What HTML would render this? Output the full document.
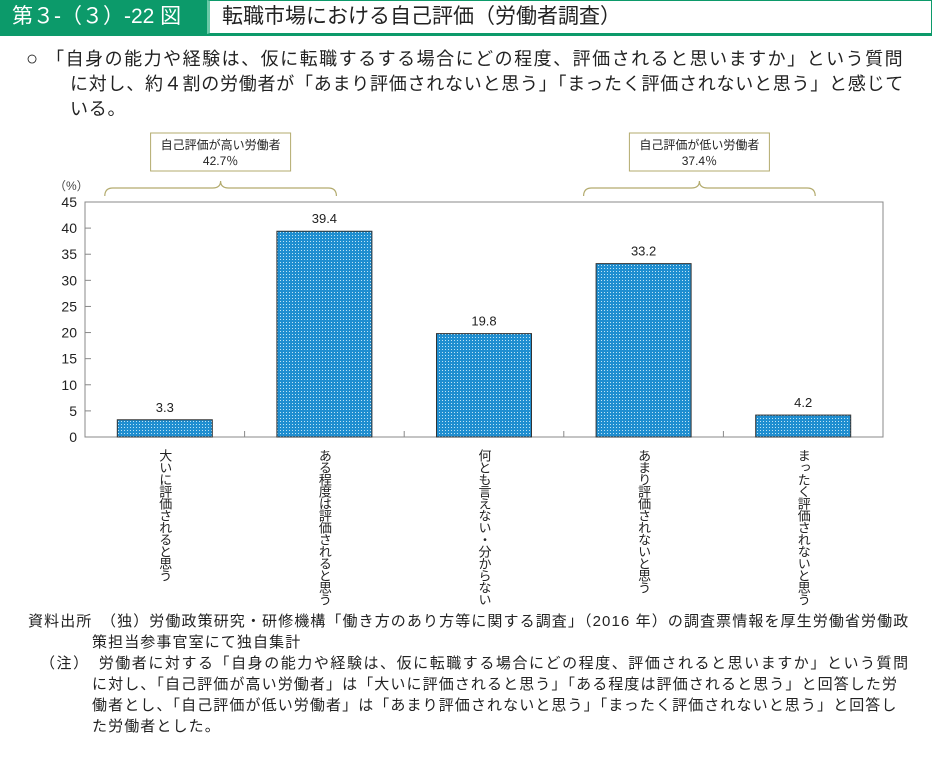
<!DOCTYPE html>
<html><head><meta charset="utf-8"><style>
body{margin:0;width:932px;height:761px;background:#fff;font-family:"Liberation Sans","Noto Sans CJK JP",sans-serif;color:#222;position:relative;overflow:hidden}
.abs{position:absolute}
.t{font-size:18px;line-height:25px;letter-spacing:0.75px;white-space:nowrap}
.n{font-size:15px;line-height:20.5px;letter-spacing:1.1px;white-space:nowrap}
</style></head><body>
<div class="abs" style="left:0;top:0;width:207px;height:34px;background:#0c9a6a;color:#fff;font-size:21px;line-height:34px;padding-left:12px;box-sizing:border-box">第３-（３）-22 図</div>
<div class="abs" style="left:207px;top:0;width:725px;height:34px;border:1px solid #0c9a6a;border-left:3px solid #6cc9a8;box-sizing:border-box;font-size:21px;line-height:32px;padding-left:12px">転職市場における自己評価（労働者調査）</div>
<div class="abs" style="left:0;top:34px;width:932px;height:2px;background:#0c9a6a"></div>
<div>
<div class="abs t" style="left:26px;top:47px;letter-spacing:1.5px"><span style="font-size:20px">○</span> 「自身の能力や経験は、仮に転職するする場合にどの程度、評価されると思いますか」という質問</div>
<div class="abs t" style="left:70px;top:72px">に対し、約４割の労働者が「あまり評価されないと思う」「まったく評価されないと思う」と感じて</div>
<div class="abs t" style="left:70px;top:97px">いる。</div>
</div>
<svg class="abs" style="left:0;top:0" width="932" height="761">
<defs><pattern id="pt" width="3" height="3" patternUnits="userSpaceOnUse"><rect width="3" height="3" fill="#1f8ed0"/><rect x="1" y="1" width="1" height="1" fill="#bfe4f5"/></pattern></defs>
<g id="g"></g>
</svg>
<div>
<div class="abs n" style="left:28px;top:612px">資料出所　（独）労働政策研究・研修機構「働き方のあり方等に関する調査」（2016 年）の調査票情報を厚生労働省労働政</div>
<div class="abs n" style="left:92px;top:633px">策担当参事官室にて独自集計</div>
<div class="abs n" style="left:40px;top:654px;letter-spacing:1.55px">（注）　労働者に対する「自身の能力や経験は、仮に転職する場合にどの程度、評価されると思いますか」という質問</div>
<div class="abs n" style="left:92px;top:675px">に対し、「自己評価が高い労働者」は「大いに評価されると思う」「ある程度は評価されると思う」と回答した労</div>
<div class="abs n" style="left:92px;top:696px">働者とし、「自己評価が低い労働者」は「あまり評価されないと思う」「まったく評価されないと思う」と回答し</div>
<div class="abs n" style="left:92px;top:717px">た労働者とした。</div>
</div>
<script>
const categories=["大いに評価されると思う","ある程度は評価されると思う","何とも言えない・分からない","あまり評価されないと思う","まったく評価されないと思う"];
const values=[3.3,39.4,19.8,33.2,4.2];
const yTicks=[0,5,10,15,20,25,30,35,40,45];
const groupLabels=["自己評価が高い労働者","自己評価が低い労働者"];
const groupValues=["42.7％","37.4％"];
const NS="http://www.w3.org/2000/svg";
const g=document.getElementById('g');
const L=85,R=883,T=202,B=437,yMax=45;
const cw=(R-L)/categories.length, bw=95;
const y=v=>B-(v/yMax)*(B-T);
const x=i=>L+cw*i+cw/2;
function mk(tag,at){const e=document.createElementNS(NS,tag);for(const k in at)e.setAttribute(k,at[k]);g.appendChild(e);return e;}
let f=mk('rect',{x:L,y:T,width:R-L,height:B-T,fill:'none',stroke:'#888','stroke-width':1});


let u=mk('text',{x:54,y:190,'font-size':12,fill:'#444'});u.textContent='（%）';


yTicks.forEach(v=>{
 mk('line',{x1:L,x2:L+6,y1:y(v),y2:y(v),stroke:'#888'});
 const t=mk('text',{x:L-8,y:y(v)+5,'font-size':14,'text-anchor':'end',fill:'#222'});t.textContent=v;
 
 
});
for(let i=1;i<categories.length;i++) mk('line',{x1:L+cw*i,x2:L+cw*i,y1:B,y2:B-6,stroke:'#888'});
values.forEach((v,i)=>{
 const r=mk('rect',{x:x(i)-bw/2,y:y(v),width:bw,height:B-y(v),fill:'url(#pt)',stroke:'#333','stroke-width':1});
 
 
 const t=mk('text',{x:x(i),y:y(v)-8,'font-size':13,'text-anchor':'middle',fill:'#222'});t.textContent=v.toFixed(1);
 
 
 const c=mk('text',{x:x(i),y:B+12,'font-size':13,fill:'#222'});
 c.setAttribute('style','writing-mode:vertical-rl;text-orientation:upright;letter-spacing:-1px');
 c.textContent=categories[i];
 
 
});
[[0,1],[3,4]].forEach((p,k)=>{
 const a=x(p[0])-60,b=x(p[1])+12,m=(a+b)/2,yy=188;
 const br=mk('path',{d:`M${a} ${yy+8} Q${a} ${yy} ${a+8} ${yy} L${m-8} ${yy} Q${m} ${yy} ${m} ${yy-7} Q${m} ${yy} ${m+8} ${yy} L${b-8} ${yy} Q${b} ${yy} ${b} ${yy+8}`,fill:'none',stroke:'#b3ab6e','stroke-width':1.2});
 
 
 const bx=mk('rect',{x:m-70,y:133,width:140,height:38,fill:'#fff',stroke:'#b3ab6e'});
 
 
 const t1=mk('text',{x:m,y:149,'font-size':12,'text-anchor':'middle',fill:'#222'});t1.textContent=groupLabels[k];
 const t2=mk('text',{x:m,y:165,'font-size':12,'text-anchor':'middle',fill:'#222'});t2.textContent=groupValues[k];
 
 
 
 
});
</script>
</body></html>
